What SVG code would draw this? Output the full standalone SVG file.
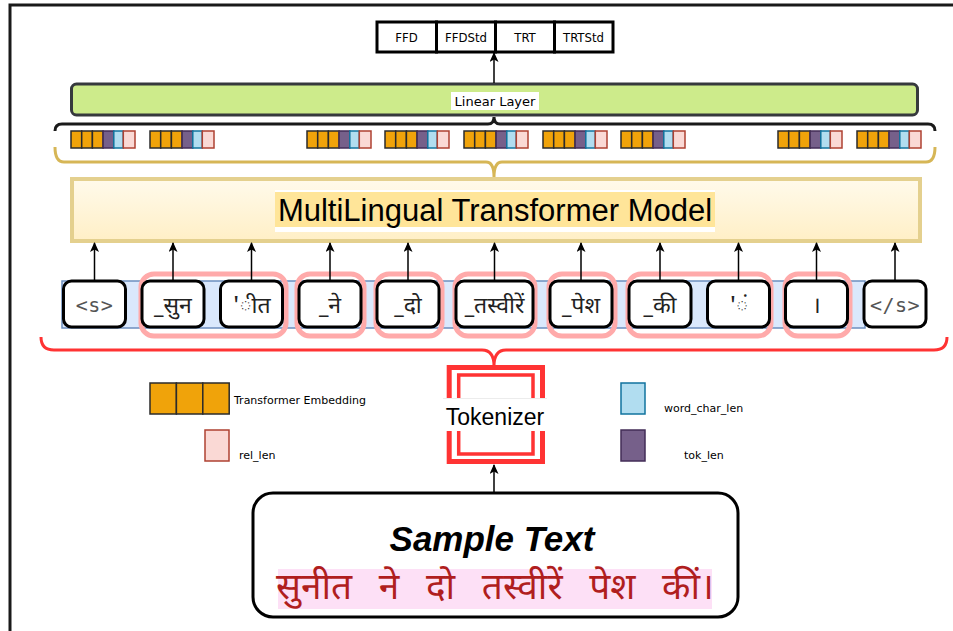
<svg xmlns="http://www.w3.org/2000/svg" width="953" height="631" viewBox="0 0 953 631">
<defs>
<marker id="ah" markerWidth="10" markerHeight="10" refX="9" refY="4.5" orient="auto" markerUnits="userSpaceOnUse">
<path d="M0,0 L10,4.5 L0,9 L2.5,4.5 z" fill="#000"/>
</marker>
<linearGradient id="tg" x1="0" y1="0" x2="0" y2="1">
<stop offset="0" stop-color="#fffaeb"/>
<stop offset="1" stop-color="#ffefc6"/>
</linearGradient>
<g id="emb">
<rect x="0" y="0" width="10.7" height="17" fill="#f0a30a" stroke="#2b2b2b" stroke-width="1.5"/>
<rect x="10.7" y="0" width="10.7" height="17" fill="#f0a30a" stroke="#2b2b2b" stroke-width="1.5"/>
<rect x="21.4" y="0" width="10.7" height="17" fill="#f0a30a" stroke="#2b2b2b" stroke-width="1.5"/>
<rect x="32.1" y="0" width="10.7" height="17" fill="#76608a" stroke="#432d57" stroke-width="1.5"/>
<rect x="42.8" y="0" width="9.5" height="17" fill="#b1ddf0" stroke="#10739e" stroke-width="1.5"/>
<rect x="52.3" y="0" width="11.7" height="17" fill="#fad9d5" stroke="#ae4132" stroke-width="1.5"/>
</g>
</defs>
<style>
.tok{fill:#fff;stroke:#000;stroke-width:3}
.dev{font-family:"Noto Sans Devanagari","Lohit Devanagari","Noto Sans",sans-serif;font-size:23px;fill:#222;text-anchor:middle}
.mono{font-family:"DejaVu Sans Mono",monospace;font-size:20px;fill:#555;text-anchor:middle;letter-spacing:0.5px}
.pink{fill:none;stroke:#ffaaaa;stroke-width:5}
.arr{stroke:#000;stroke-width:1.5;fill:none;marker-end:url(#ah)}
.cell{fill:#fff;stroke:#000;stroke-width:3}
.ct{font-family:"DejaVu Sans Condensed","DejaVu Sans",sans-serif;font-stretch:condensed;font-size:13px;fill:#000;text-anchor:middle}
.leg{font-family:"DejaVu Sans",Verdana,sans-serif;font-size:11px;fill:#000}
</style>
<rect width="953" height="631" fill="#fff"/>
<path d="M10,631 V5 H953" fill="none" stroke="#1a1a1a" stroke-width="3"/>

<g id="output-table">
<rect class="cell" x="377" y="22" width="59.5" height="30"/>
<rect class="cell" x="436.5" y="22" width="59" height="30"/>
<rect class="cell" x="495.5" y="22" width="59" height="30"/>
<rect class="cell" x="554.5" y="22" width="58.5" height="30"/>
<text class="ct" x="406.5" y="42">FFD</text>
<text class="ct" x="466" y="42">FFDStd</text>
<text class="ct" x="525" y="42">TRT</text>
<text class="ct" x="583.5" y="42">TRTStd</text>
</g>

<g id="linear-layer">
<rect x="71.5" y="84" width="846" height="31" rx="5" fill="#cdeb8b" stroke="#36393d" stroke-width="3"/>
<rect x="451" y="92" width="88" height="18" fill="#fff"/>
<text x="495" y="105.5" font-family="DejaVu Sans, Verdana, sans-serif" font-size="13" text-anchor="middle">Linear Layer</text>
</g>

<g id="embeddings">
<use href="#emb" x="71" y="131"/>
<use href="#emb" x="150" y="131"/>
<use href="#emb" x="307" y="131"/>
<use href="#emb" x="385" y="131"/>
<use href="#emb" x="464" y="131"/>
<use href="#emb" x="543" y="131"/>
<use href="#emb" x="621" y="131"/>
<use href="#emb" x="778" y="131"/>
<use href="#emb" x="857" y="131"/>
</g>

<g id="transformer">
<rect x="72" y="179" width="848" height="62" fill="url(#tg)" stroke="#e4d08e" stroke-width="4"/>
<rect x="275" y="190" width="440" height="42" fill="#fff"/>
<rect x="275" y="192" width="440" height="35" fill="#ffe599"/>
<text x="495" y="221" font-family="Liberation Sans, Arial, sans-serif" font-size="31" text-anchor="middle">MultiLingual Transformer Model</text>
</g>

<g id="token-band">
<rect x="62" y="281" width="803" height="47" fill="#dae8fc" stroke="#6c8ebf" stroke-width="1.5"/>
</g>

<g id="word-groups">
<rect class="pink" x="141" y="274" width="145" height="62" rx="13"/>
<rect class="pink" x="297" y="274" width="67" height="62" rx="13"/>
<rect class="pink" x="376" y="274" width="66" height="62" rx="13"/>
<rect class="pink" x="455" y="274" width="80" height="62" rx="13"/>
<rect class="pink" x="549" y="274" width="66" height="62" rx="13"/>
<rect class="pink" x="628" y="274" width="143" height="62" rx="13"/>
<rect class="pink" x="785" y="274" width="65" height="62" rx="13"/>
</g>

<g id="tok-s"><rect class="tok" x="63.5" y="281" width="62" height="46" rx="8"/><text class="mono" x="94.5" y="312">&lt;s&gt;</text></g>
<g id="tok-sun"><rect class="tok" x="142" y="281" width="62" height="46" rx="8"/><text class="dev" x="173" y="313">_सुन</text></g>
<g id="tok-it"><rect class="tok" x="220.5" y="281" width="62" height="46" rx="8"/><text class="dev" x="251.5" y="313">'ीत</text></g>
<g id="tok-ne"><rect class="tok" x="299" y="281" width="62" height="46" rx="8"/><text class="dev" x="330" y="313">_ने</text></g>
<g id="tok-do"><rect class="tok" x="377" y="281" width="62" height="46" rx="8"/><text class="dev" x="408" y="313">_दो</text></g>
<g id="tok-tasvir"><rect class="tok" x="456" y="281" width="77" height="46" rx="8"/><text class="dev" x="494.5" y="313">_तस्वीरें</text></g>
<g id="tok-pesh"><rect class="tok" x="550" y="281" width="62" height="46" rx="8"/><text class="dev" x="581" y="313">_पेश</text></g>
<g id="tok-ki"><rect class="tok" x="629" y="281" width="62" height="46" rx="8"/><text class="dev" x="660" y="313">_की</text></g>
<g id="tok-anusvara"><rect class="tok" x="707.5" y="281" width="62" height="46" rx="8"/><text class="dev" x="738.5" y="313">'ं</text></g>
<g id="tok-danda"><rect class="tok" x="785.5" y="281" width="62" height="46" rx="8"/><text class="dev" x="816.5" y="313">।</text></g>
<g id="tok-end"><rect class="tok" x="864" y="281" width="62" height="46" rx="8"/><text class="mono" x="895" y="312">&lt;/s&gt;</text></g>

<g id="tokenizer">
<rect x="449.2" y="367.5" width="93.3" height="94" fill="#fff" stroke="#ff3333" stroke-width="5"/>
<rect x="458.7" y="375" width="74.3" height="79" fill="none" stroke="#ff3333" stroke-width="3.5"/>
<rect x="443" y="398" width="104" height="33" fill="#fff"/>
<line x1="443" y1="398.5" x2="547" y2="398.5" stroke="#ececec" stroke-width="1"/>
<text x="495" y="425" font-family="Liberation Sans, Arial, sans-serif" font-size="23" text-anchor="middle">Tokenizer</text>
</g>

<g id="legend">
<rect x="150" y="383" width="26.4" height="31" fill="#f0a30a" stroke="#2b2b2b" stroke-width="1.5"/>
<rect x="176.4" y="383" width="26.4" height="31" fill="#f0a30a" stroke="#2b2b2b" stroke-width="1.5"/>
<rect x="202.8" y="383" width="26.4" height="31" fill="#f0a30a" stroke="#2b2b2b" stroke-width="1.5"/>
<text class="leg" x="234" y="404">Transformer Embedding</text>
<rect x="205" y="430" width="24" height="31" fill="#fad9d5" stroke="#ae4132" stroke-width="1.5"/>
<text class="leg" x="239" y="459">rel_len</text>
<rect x="621" y="383" width="24" height="31" fill="#b1ddf0" stroke="#10739e" stroke-width="1.5"/>
<text class="leg" x="664" y="412">word_char_len</text>
<rect x="621" y="430" width="24" height="31" fill="#76608a" stroke="#432d57" stroke-width="1.5"/>
<text class="leg" x="684" y="459">tok_len</text>
</g>

<g id="sample-text">
<rect x="253" y="493" width="485" height="124" rx="20" fill="#fff" stroke="#000" stroke-width="3"/>
<text x="492" y="551" font-family="Liberation Sans, Arial, sans-serif" font-size="35" font-weight="bold" font-style="italic" text-anchor="middle">Sample Text</text>
<rect x="278" y="569" width="434" height="40" fill="#fde0f6"/>
<text x="495" y="599" font-family="Noto Sans Devanagari, Lohit Devanagari, Noto Sans, sans-serif" font-size="37" fill="#b01e1e" text-anchor="middle" word-spacing="17">सुनीत ने दो तस्वीरें पेश कीं।</text>
</g>

<g id="connectors">
<path d="M55,131 Q55,124 62,124 H488 Q494,124 494,117 Q494,124 500,124 H928 Q935,124 935,131" fill="none" stroke="#1a1a1a" stroke-width="3"/>
<path d="M55,147 Q55,162 64,162 H486 Q494,162 494,177 Q494,162 502,162 H926 Q935,162 935,147" fill="none" stroke="#d6b656" stroke-width="3"/>
<path d="M41,337 Q41,350 54,350 H482 Q494,350 494,366 Q494,350 506,350 H934 Q947,350 947,337" fill="none" stroke="#ff3333" stroke-width="3"/>
<line class="arr" x1="494" y1="83" x2="494" y2="53"/>
<line class="arr" x1="94.5" y1="281" x2="94.5" y2="243"/>
<line class="arr" x1="173" y1="281" x2="173" y2="243"/>
<line class="arr" x1="251.5" y1="281" x2="251.5" y2="243"/>
<line class="arr" x1="330" y1="281" x2="330" y2="243"/>
<line class="arr" x1="408" y1="281" x2="408" y2="243"/>
<line class="arr" x1="494.5" y1="281" x2="494.5" y2="243"/>
<line class="arr" x1="581" y1="281" x2="581" y2="243"/>
<line class="arr" x1="660" y1="281" x2="660" y2="243"/>
<line class="arr" x1="738.5" y1="281" x2="738.5" y2="243"/>
<line class="arr" x1="816.5" y1="281" x2="816.5" y2="243"/>
<line class="arr" x1="895" y1="281" x2="895" y2="243"/>
<line class="arr" x1="494" y1="492" x2="494" y2="465"/>
</g>
</svg>
